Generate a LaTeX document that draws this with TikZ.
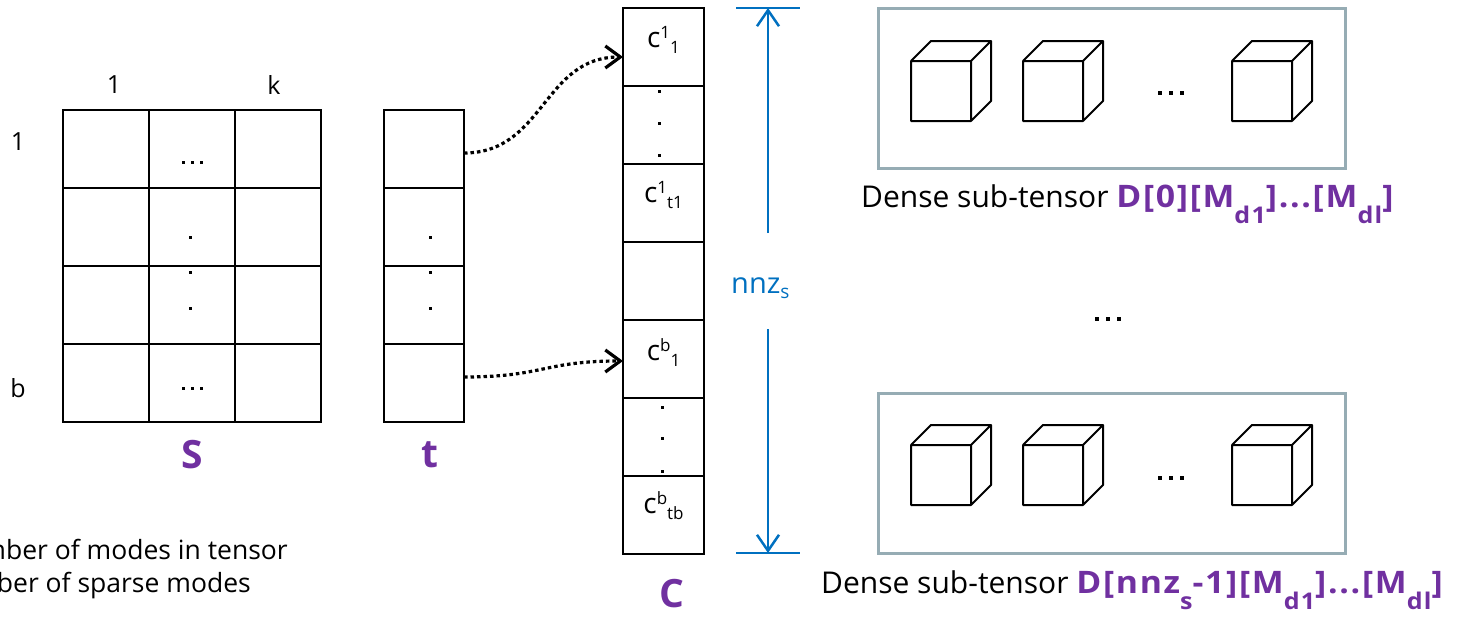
\documentclass[tikz,border=0pt]{standalone}
\usepackage{fontspec}
\setmainfont{Open Sans}
\newfontfamily\purfont{Open Sans}[LetterSpace=5]
\usetikzlibrary{arrows.meta}
\definecolor{pur}{RGB}{112,48,160}
\definecolor{blu}{RGB}{0,112,192}
\definecolor{gry}{RGB}{150,172,180}
\newcommand\fs[1]{\fontsize{#1}{#1}\selectfont}
\newcommand\csup[2]{c\raisebox{9pt}{\fs{17}#1}\raisebox{-6pt}{\fs{17}#2}}
\newcommand\psub[1]{\raisebox{-16pt}{\fs{23}#1}}
\newcommand\purtext[1]{\textcolor{pur}{\scalebox{1.09}[1]{\purfont\bfseries\fs{31}#1}}}
\begin{document}
\begin{tikzpicture}[x=1pt,y=-1pt,
  cellbox/.style={draw, line width=2.5pt, minimum width=#1, minimum height=78pt, inner sep=0pt, outer sep=0pt},
  densebox/.style={draw=gry, line width=3pt, minimum width=467pt, minimum height=160pt, inner sep=0pt, outer sep=0pt},
  celltext/.style={anchor=base, font=\fs{28}, inner sep=0pt},
  axislabel/.style={font=\fs{25}, inner sep=0pt},
  biglabel/.style={font=\fs{39}\bfseries, text=pur, inner sep=0pt},
  denselabel/.style={anchor=base west, inner sep=0pt, font=\fs{30}},
  legend/.style={anchor=base east, inner sep=0pt, font=\fs{26.5}},
  conn/.style={line width=3.2pt, dash pattern=on 3.5pt off 3pt, -{Straight Barb[length=15pt,width=22pt,line width=3.2pt]}},
  span/.style={blu, line width=2.5pt, -{Straight Barb[length=16pt,width=22pt,line width=2.5pt]}},
  spanbar/.style={blu, line width=2.5pt},
  cube/.pic={
    \draw[line width=2pt, line join=round] (0,0) rectangle (60,60)
      (0,0) -- (20,-20) -- (80,-20) -- (80,40) -- (60,60)
      (60,0) -- (80,-20);
  }]
\useasboundingbox (0,0) rectangle (1472,616);
\clip (0,0) rectangle (1472,616);

% ---------- matrix S and vector t ----------
\foreach \r in {0,1,2,3}{
  \foreach \c in {0,1,2}{
    \node[cellbox=86pt] (s\r\c) at (106+86*\c, 149+78*\r) {};
  }
  \node[cellbox=80pt] (t\r) at (424, 149+78*\r) {};
}
\node[axislabel] (col1) at (114,85) {1};
\node[axislabel] (colk) at (274,85) {k};
\node[axislabel] (row1) at (18,142) {1};
\node[axislabel] (rowb) at (18,388) {b};
\node[biglabel] (Slab) at (192,455) {S};
\node[biglabel] (tlab) at (430,455) {t};

\foreach \x in {183,192,201}{
  \fill (\x-1.5,162-1.5) rectangle +(3,3);
  \fill (\x-1.5,388-1.5) rectangle +(3,3);
}
\foreach \y in {237,272,308}{
  \fill (190-1.5,\y-1.5) rectangle +(3,3);
  \fill (430-1.5,\y-1.5) rectangle +(3,3);
}

% ---------- column C ----------
\foreach \i in {1,...,7}{
  \node[cellbox=81pt] (c\i) at (663.5, 47+78*\i-78) {};
}
\node[celltext] (c1t) at (c1.center) {\csup{1}{1}};
\node[celltext] (c3t) at ([yshift=1pt]c3.center) {\csup{1}{t1}};
\node[celltext] (c5t) at ([yshift=-1pt]c5.center) {\csup{b}{1}};
\node[celltext] (c7t) at ([yshift=2pt]c7.center) {\csup{b}{tb}};
\foreach \y in {91,123,155}{ \fill (659-1.5,\y-1.5) rectangle +(3,3); }
\foreach \y in {407,438,471}{ \fill (662-1.5,\y-1.5) rectangle +(3,3); }
\node[biglabel] (Clab) at (672,594) {C};

% ---------- connectors ----------
\draw[conn] ([yshift=-4pt]t0.east) .. controls +(80,0) and +(-80,0) .. ([yshift=-10pt]c1.west);
\draw[conn] ([yshift=6pt]t3.east) .. controls +(80,0) and +(-80,0) .. ([yshift=-2pt]c5.west);

% ---------- nnz_s span ----------
\coordinate (barTL) at (736,8);
\coordinate (barTR) at (800,8);
\coordinate (barBL) at (736,553);
\coordinate (barBR) at (800,553);
\coordinate (topEnd) at (768,8);
\coordinate (botEnd) at (768,553);
\coordinate (upStart) at (768,233);
\coordinate (downStart) at (768,329);
\draw[spanbar] (barTL) -- (barTR);
\draw[spanbar] (barBL) -- (barBR);
\draw[span] (upStart) -- (topEnd);
\draw[span] (downStart) -- (botEnd);
\node[anchor=base west, inner sep=0pt, text=blu, font=\fs{29}] (nnz) at (731,293) {nnz\raisebox{-5pt}{\fs{19}s}};

% ---------- dense sub-tensors ----------
\node[densebox] (d1) at (1111.5,88) {};
\node[densebox] (d2) at (1111.5,473) {};
\foreach \x in {911,1023,1232}{
  \pic at (\x,61) {cube};
  \pic at (\x,445) {cube};
}
\foreach \x in {1160,1171,1182}{
  \fill (\x-2,93-2) rectangle +(4,4);
  \fill (\x-2,478-2) rectangle +(4,4);
}
\foreach \x in {1097,1108,1119}{
  \fill (\x-2,319-2) rectangle +(4,4);
}
\node[denselabel] (d1lab) at (861,207)
  {Dense sub-tensor \purtext{D[0][M\psub{d1}]...[M\psub{dl}]}};
\node[denselabel] (d2lab) at (821,593)
  {Dense sub-tensor \purtext{D[nnz\psub{s}-1][M\psub{d1}]...[M\psub{dl}]}};

% ---------- legend (cut at left edge) ----------
\node[legend] (leg1) at (288,559) {number of modes in tensor};
\node[legend] (leg2) at (251,592) {number of sparse modes};
\end{tikzpicture}
\end{document}
